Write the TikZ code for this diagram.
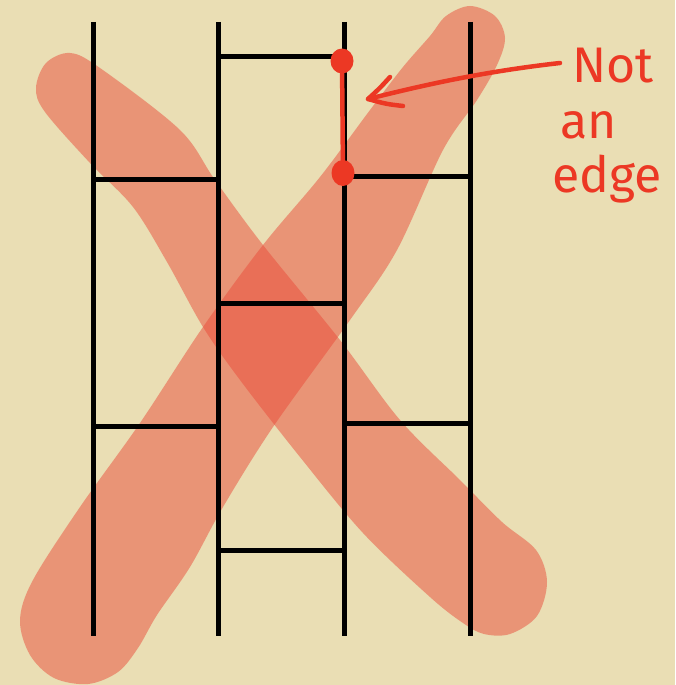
\documentclass[tikz,border=0pt]{standalone}
\usepackage{fontspec}
\setmainfont{Fira Sans}
\usepackage{tikz}
\usetikzlibrary{positioning}
\definecolor{parchment}{RGB}{234,222,180}
\definecolor{crossred}{RGB}{233,76,58}
\definecolor{inkred}{RGB}{236,56,36}

\begin{document}
\begin{tikzpicture}[x=1pt,y=-1pt,
          rail/.style={line width=5pt,black},
          rung/.style={line width=5pt,black},
          cross/.style={fill=crossred,opacity=0.5},
          ink/.style={inkred,line width=4.5pt,line cap=round,line join=round},
          note/.style={inkred,anchor=base west,inner sep=0pt,
                       font=\fontsize{50}{54}\selectfont}]
        \fill[parchment] (0,0) rectangle (675,685);
        % the big cross
        \fill[cross] plot[smooth cycle,tension=0.55] coordinates
          {(36,88) (46,63) (70,53) (100,68) (180,130) (215,180) (263,245)
           (340,340) (400,420) (460,480) (502,522) (536,550) (547,582)
           (537,616) (510,634) (484,634) (463,623) (430,597) (363,533)
           (300,457) (240,380) (203,327) (167,262) (133,207) (90,163)
           (45,112)};
        \fill[cross] plot[smooth cycle,tension=0.55] coordinates
          {(470,6) (495,16) (505,38) (497,65) (477,100) (443,150)
           (397,250) (350,320) (273,427) (223,507) (190,567) (157,615)
           (138,648) (118,672) (88,684) (54,678) (30,655) (20,620)
           (33,580) (80,507) (140,423) (203,327) (263,245) (320,177)
           (370,110) (403,67) (430,36) (446,16)};
        % ladder
        \foreach \x [count=\i] in {93,218,344,470} {
          \coordinate (t\i) at (\x,22);
          \coordinate (b\i) at (\x,636);
          \draw[rail] (t\i) -- (b\i);
        }
        \foreach \a/\b/\y in {1/2/179,1/2/426,2/3/57,2/3/303,2/3/550,3/4/176,3/4/423}
          \draw[rung] (t\a |- 0,\y) -- (t\b |- 0,\y);
        % the missing edge
        \coordinate (u) at (342,61);
        \coordinate (v) at (343,173);
        \draw[ink] (u) -- (v);
        \fill[inkred] (u) ellipse [x radius=11.5,y radius=12.5];
        \fill[inkred] (v) ellipse [x radius=11.5,y radius=13];
        \coordinate (tail) at (560,63);
        \coordinate (tip) at (368,99);
        \draw[ink] (tail) .. controls (480,72) and (420,86) .. (tip);
        \draw[ink] (390,77) .. controls (380,88) .. (tip)
                   .. controls (386,104) .. (403,106);
        \node[note] (lbl1) at (572,82) {Not};
        \node[note] (lbl2) at (560,138) {an};
        \node[note] (lbl3) at (552,192) {edge};
      \end{tikzpicture}
\end{document}
